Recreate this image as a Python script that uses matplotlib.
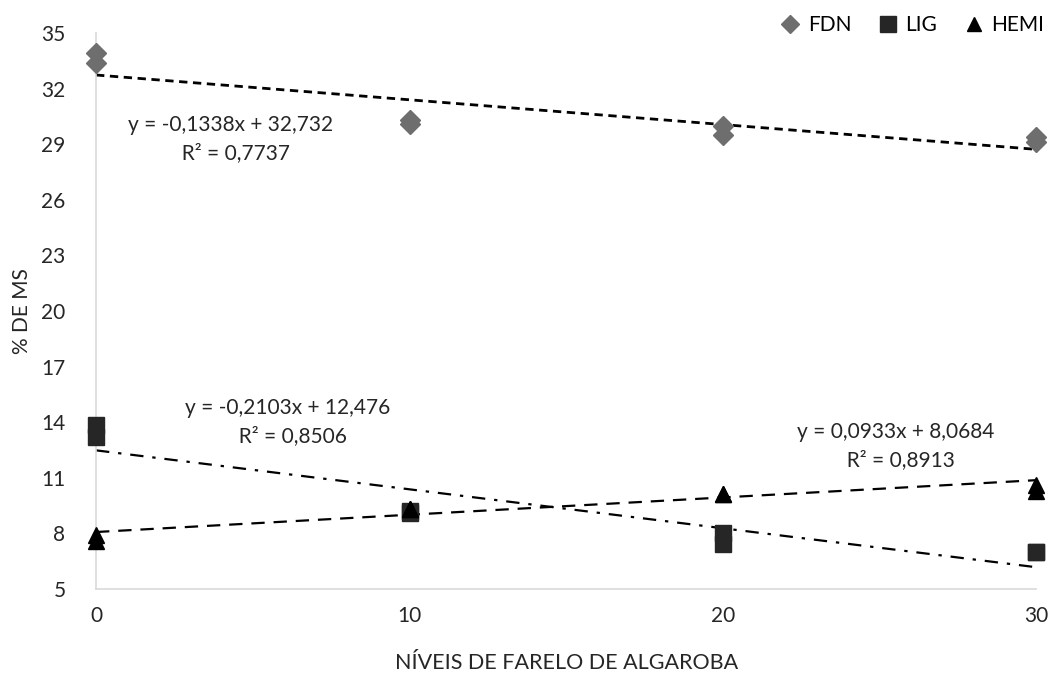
import numpy as np
import matplotlib
matplotlib.use("Agg")
import matplotlib.pyplot as plt
from matplotlib.lines import Line2D

plt.rcParams["font.family"] = ["Lato", "DejaVu Sans"]

# replicate values
fdn_x = [0, 0, 10, 10, 20, 20, 30, 30]
fdn_y = [33.9, 33.4, 30.3, 30.1, 30.0, 29.5, 29.4, 29.1]
lig_x = [0, 0, 10, 10, 20, 20, 30, 30]
lig_y = [13.85, 13.2, 9.2, 9.1, 8.0, 7.4, 7.0, 7.0]
hemi_x = [0, 0, 10, 10, 20, 20, 30, 30]
hemi_y = [7.9, 7.6, 9.3, 9.3, 10.1, 10.1, 10.6, 10.3]

# trendline coefficients (from the chart labels)
fdn_fit = (-0.1338, 32.732)
lig_fit = (-0.2103, 12.476)
hemi_fit = (0.0933, 8.0684)

fig = plt.figure(figsize=(10.6, 6.73), dpi=100)
ax = fig.add_axes([0.0906, 0.125, 0.8872, 0.826])

c_fdn = "#6e6e6e"
c_lig = "#262626"
c_hemi = "#000000"

ax.plot(fdn_x, fdn_y, "D", ms=10, color=c_fdn, clip_on=False, zorder=3)
ax.plot(lig_x, lig_y, "s", ms=12, color=c_lig, clip_on=False, zorder=3)
ax.plot(hemi_x, hemi_y, "^", ms=11, color=c_hemi, clip_on=False, zorder=3)

xx = np.array([0, 30])
ax.plot(xx, fdn_fit[0] * xx + fdn_fit[1], color="black", lw=2,
        dashes=(3, 2), zorder=2)
ax.plot(xx, lig_fit[0] * xx + lig_fit[1], color="black", lw=1.6,
        dashes=(6, 4, 1.5, 4), zorder=2)
ax.plot(xx, hemi_fit[0] * xx + hemi_fit[1], color="black", lw=1.6,
        dashes=(6, 4), zorder=2)

ax.set_xlim(0, 30)
ax.set_ylim(5, 35)
ax.set_xticks([0, 10, 20, 30])
ax.set_yticks(np.arange(5, 36, 3))
ax.tick_params(length=0, labelsize=15, colors="#262626", pad=12)
ax.tick_params(axis="y", pad=22)
for s in ["top", "right"]:
    ax.spines[s].set_visible(False)
for s in ["left", "bottom"]:
    ax.spines[s].set_color("#d9d9d9")
    ax.spines[s].set_linewidth(1.2)

ax.set_xlabel("NÍVEIS DE FARELO DE ALGAROBA", fontsize=15.5, color="#262626", labelpad=20)
ax.set_ylabel("% DE MS", fontsize=15, color="#262626", labelpad=7)

eq_kw = dict(fontsize=15, color="#262626", ha="center", va="center", multialignment="center")
ax.text(4.3, 29.3, "y = -0,1338x + 32,732\n  R² = 0,7737", linespacing=1.5, **eq_kw)
ax.text(6.1, 14.0, "y = -0,2103x + 12,476\n  R² = 0,8506", linespacing=1.5, **eq_kw)
ax.text(25.5, 12.7, "y = 0,0933x + 8,0684\n  R² = 0,8913", linespacing=1.5, **eq_kw)

handles = [
    Line2D([], [], ls="", marker="D", ms=9, color=c_fdn),
    Line2D([], [], ls="", marker="s", ms=11, color=c_lig),
    Line2D([], [], ls="", marker="^", ms=10, color=c_hemi),
]
fig.legend(handles, ["FDN", "LIG", "HEMI"], loc="upper right",
           bbox_to_anchor=(1.003, 1.005), ncol=3, frameon=False, fontsize=15,
           handletextpad=0.4, columnspacing=1.3, handlelength=0.9)

fig.savefig("out.png", dpi=100)
